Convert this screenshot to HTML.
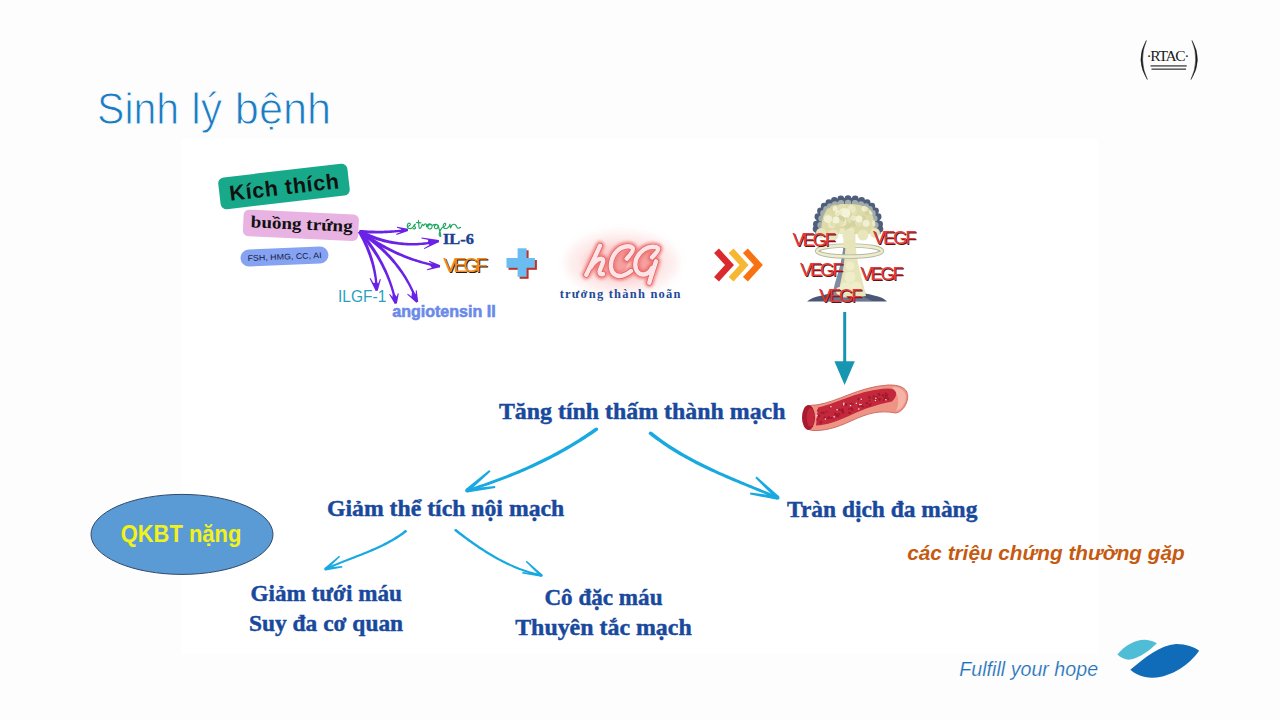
<!DOCTYPE html>
<html><head><meta charset="utf-8">
<style>
html,body{margin:0;padding:0;}
body{width:1280px;height:720px;overflow:hidden;background:#fdfdfd;position:relative;font-family:"Liberation Sans",sans-serif;}
#pic{position:absolute;left:181px;top:139px;width:917px;height:515px;background:#ffffff;}
svg{position:absolute;left:0;top:0;}
</style></head>
<body>
<div id="pic"></div>
<svg width="1280" height="720" viewBox="0 0 1280 720">
<defs>
  <filter id="glow" x="-50%" y="-50%" width="200%" height="200%"><feGaussianBlur stdDeviation="5"/></filter>
  <filter id="glow2" x="-50%" y="-50%" width="200%" height="200%"><feGaussianBlur stdDeviation="1.5"/></filter>
  <filter id="soft" x="-20%" y="-20%" width="140%" height="140%"><feGaussianBlur stdDeviation="0.6"/></filter>
  <clipPath id="capclip"><path d="M820.5 234 C819.5 209.8 828 203 848 203 C868 203 876.5 209.8 875.5 234 Z"/></clipPath>
</defs>

<!-- RTAC logo -->
<path d="M1146.3 40.5 Q1135 60 1147.3 79.5 Q1138.3 60 1146.3 40.5 Z" fill="#1a1a1a" stroke="#1a1a1a" stroke-width="0.5"/>
<path d="M1192 40.5 Q1203.3 60 1191 79.5 Q1200 60 1192 40.5 Z" fill="#1a1a1a" stroke="#1a1a1a" stroke-width="0.5"/>
<text x="1146.5" y="60.6" font-size="15.5" fill="#1a1a1a" font-family="Liberation Serif" textLength="43" lengthAdjust="spacing">·RTAC·</text>
<rect x="1150.5" y="65.1" width="36.2" height="1.6" fill="#3a3a3a" opacity="0.8"/>
<rect x="1151.5" y="68.4" width="34.5" height="1.6" fill="#3a3a3a" opacity="0.8"/>

<!-- Kich thich boxes -->
<g transform="translate(284,186.5) rotate(-6.6)">
  <rect x="-65" y="-16" width="130" height="32" rx="6" fill="#18a98a"/>
</g>
<g transform="translate(300.9,225.3) rotate(2.6)">
  <rect x="-57.7" y="-13.3" width="115.4" height="26.6" rx="5.5" fill="#e8b3e2"/>
</g>
<g transform="translate(284.5,256.5) rotate(-2.5)">
  <rect x="-44" y="-8.5" width="88" height="17" rx="8.5" fill="#86a3f3"/>
</g>

<!-- purple arrows -->
<path d="M359.37 233.20 L360.59 233.27 L361.80 233.33 L363.02 233.39 L364.23 233.44 L365.45 233.49 L366.66 233.52 L367.88 233.56 L369.09 233.58 L370.30 233.60 L371.52 233.61 L372.73 233.62 L373.95 233.62 L375.16 233.61 L376.37 233.60 L377.58 233.57 L378.80 233.55 L380.01 233.51 L381.22 233.47 L382.43 233.43 L383.65 233.37 L384.86 233.31 L386.07 233.25 L387.28 233.18 L388.49 233.10 L389.70 233.01 L390.91 232.92 L392.12 232.82 L393.33 232.71 L394.55 232.60 L395.76 232.48 L396.97 232.36 L398.18 232.23 L399.38 232.09 L400.59 231.94 L401.80 231.79 L403.01 231.64 L404.22 231.47 L405.43 231.30 L406.64 231.12 L407.85 230.94 L407.55 228.86 L406.35 229.01 L405.15 229.15 L403.95 229.29 L402.75 229.42 L401.55 229.54 L400.35 229.66 L399.15 229.77 L397.94 229.88 L396.74 229.98 L395.54 230.07 L394.34 230.15 L393.15 230.23 L391.95 230.30 L390.75 230.37 L389.55 230.43 L388.35 230.48 L387.15 230.53 L385.95 230.57 L384.75 230.60 L383.55 230.63 L382.36 230.65 L381.16 230.66 L379.96 230.67 L378.76 230.67 L377.57 230.66 L376.37 230.65 L375.17 230.63 L373.97 230.61 L372.78 230.58 L371.58 230.54 L370.39 230.49 L369.19 230.44 L367.99 230.39 L366.80 230.32 L365.60 230.25 L364.41 230.18 L363.21 230.09 L362.02 230.00 L360.82 229.91 L359.63 229.80 Z" fill="#6a22e6"/>
<path d="M407.7 229.9 L401.28 228.34 L400.95 230.75 L400.86 232.66 Z" fill="#6a22e6"/>
<path d="M407.96 228.83 L397.12 226.81 L396.88 227.79 L407.44 230.97 Z" fill="#6a22e6"/>
<path d="M407.29 228.88 L396.11 234.04 L396.49 234.96 L408.11 230.92 Z" fill="#6a22e6"/>
<path d="M358.75 233.03 L360.75 233.97 L362.75 234.87 L364.76 235.74 L366.76 236.57 L368.76 237.36 L370.76 238.12 L372.77 238.84 L374.77 239.53 L376.77 240.17 L378.78 240.78 L380.78 241.36 L382.79 241.89 L384.79 242.39 L386.80 242.86 L388.80 243.28 L390.81 243.67 L392.82 244.03 L394.82 244.34 L396.83 244.62 L398.84 244.87 L400.84 245.07 L402.85 245.24 L404.86 245.37 L406.86 245.47 L408.87 245.53 L410.88 245.55 L412.88 245.54 L414.89 245.48 L416.90 245.40 L418.90 245.27 L420.91 245.11 L422.91 244.91 L424.92 244.68 L426.92 244.41 L428.93 244.10 L430.93 243.76 L432.94 243.38 L434.94 242.96 L436.95 242.51 L438.95 242.02 L438.45 239.98 L436.47 240.43 L434.50 240.84 L432.53 241.22 L430.55 241.56 L428.58 241.87 L426.61 242.14 L424.65 242.37 L422.68 242.57 L420.71 242.73 L418.75 242.85 L416.79 242.94 L414.82 243.00 L412.86 243.01 L410.90 243.00 L408.94 242.94 L406.99 242.85 L405.03 242.73 L403.07 242.56 L401.12 242.37 L399.16 242.13 L397.21 241.87 L395.26 241.56 L393.31 241.22 L391.36 240.85 L389.41 240.43 L387.46 239.99 L385.51 239.50 L383.56 238.99 L381.62 238.43 L379.67 237.84 L377.73 237.22 L375.78 236.55 L373.84 235.86 L371.90 235.12 L369.95 234.35 L368.01 233.55 L366.07 232.71 L364.13 231.83 L362.19 230.92 L360.25 229.97 Z" fill="#6a22e6"/>
<path d="M438.7 241.0 L428.38 239.20 L427.56 243.16 L429.94 245.56 Z" fill="#6a22e6"/>
<path d="M438.89 239.92 L421.59 237.51 L421.41 238.49 L438.51 242.08 Z" fill="#6a22e6"/>
<path d="M438.19 240.02 L423.87 248.16 L424.33 249.04 L439.21 241.98 Z" fill="#6a22e6"/>
<path d="M358.52 232.89 L360.59 234.31 L362.65 235.69 L364.71 237.05 L366.77 238.38 L368.82 239.68 L370.88 240.95 L372.93 242.19 L374.98 243.41 L377.03 244.59 L379.08 245.75 L381.12 246.88 L383.17 247.98 L385.21 249.05 L387.25 250.10 L389.29 251.11 L391.33 252.10 L393.36 253.06 L395.39 253.99 L397.43 254.89 L399.45 255.76 L401.48 256.61 L403.51 257.42 L405.53 258.21 L407.55 258.97 L409.57 259.70 L411.59 260.40 L413.61 261.08 L415.62 261.72 L417.64 262.34 L419.65 262.93 L421.65 263.49 L423.66 264.02 L425.67 264.52 L427.67 264.99 L429.67 265.44 L431.67 265.86 L433.66 266.24 L435.66 266.60 L437.65 266.93 L439.64 267.24 L439.96 265.16 L438.00 264.83 L436.05 264.47 L434.09 264.09 L432.13 263.67 L430.16 263.23 L428.20 262.76 L426.23 262.26 L424.27 261.74 L422.30 261.18 L420.33 260.60 L418.36 259.99 L416.39 259.35 L414.41 258.68 L412.44 257.99 L410.46 257.27 L408.48 256.52 L406.50 255.74 L404.52 254.93 L402.53 254.10 L400.55 253.24 L398.56 252.35 L396.57 251.43 L394.58 250.48 L392.59 249.51 L390.59 248.51 L388.60 247.48 L386.60 246.42 L384.60 245.33 L382.60 244.22 L380.60 243.08 L378.59 241.91 L376.59 240.71 L374.58 239.48 L372.57 238.23 L370.56 236.94 L368.55 235.63 L366.53 234.29 L364.51 232.93 L362.50 231.53 L360.48 230.11 Z" fill="#6a22e6"/>
<path d="M439.8 266.2 L433.38 263.23 L428.73 264.06 L432.24 268.30 Z" fill="#6a22e6"/>
<path d="M440.26 265.20 L429.31 260.80 L428.89 261.70 L439.34 267.20 Z" fill="#6a22e6"/>
<path d="M439.51 265.14 L427.07 269.22 L427.33 270.18 L440.09 267.26 Z" fill="#6a22e6"/>
<path d="M358.01 232.32 L358.83 233.78 L359.63 235.23 L360.40 236.69 L361.16 238.14 L361.90 239.60 L362.62 241.05 L363.32 242.50 L364.00 243.96 L364.67 245.41 L365.31 246.86 L365.93 248.32 L366.54 249.77 L367.12 251.22 L367.69 252.67 L368.24 254.13 L368.76 255.58 L369.27 257.03 L369.76 258.48 L370.23 259.93 L370.68 261.39 L371.11 262.84 L371.52 264.29 L371.92 265.74 L372.29 267.19 L372.64 268.64 L372.98 270.10 L373.30 271.55 L373.59 273.00 L373.87 274.45 L374.13 275.90 L374.37 277.36 L374.59 278.81 L374.79 280.26 L374.97 281.71 L375.13 283.16 L375.27 284.62 L375.40 286.07 L375.50 287.52 L375.58 288.98 L375.65 290.43 L377.75 290.37 L377.72 288.89 L377.66 287.41 L377.59 285.92 L377.50 284.44 L377.38 282.95 L377.25 281.47 L377.10 279.98 L376.93 278.50 L376.73 277.01 L376.52 275.52 L376.29 274.03 L376.04 272.54 L375.77 271.05 L375.48 269.56 L375.17 268.07 L374.84 266.58 L374.49 265.09 L374.12 263.60 L373.73 262.11 L373.32 260.61 L372.89 259.12 L372.44 257.63 L371.97 256.13 L371.49 254.64 L370.98 253.14 L370.45 251.65 L369.90 250.15 L369.33 248.66 L368.75 247.16 L368.14 245.66 L367.51 244.17 L366.87 242.67 L366.20 241.17 L365.52 239.67 L364.81 238.17 L364.08 236.67 L363.34 235.17 L362.58 233.68 L361.79 232.18 L360.99 230.68 Z" fill="#6a22e6"/>
<path d="M376.7 290.4 L372.68 283.14 L376.17 282.18 L378.92 283.68 Z" fill="#6a22e6"/>
<path d="M377.66 289.87 L370.44 278.06 L369.56 278.54 L375.74 290.93 Z" fill="#6a22e6"/>
<path d="M377.74 290.75 L380.87 279.36 L379.93 279.04 L375.66 290.05 Z" fill="#6a22e6"/>
<path d="M358.22 232.62 L359.65 234.25 L361.05 235.89 L362.43 237.54 L363.78 239.19 L365.10 240.85 L366.39 242.52 L367.66 244.20 L368.91 245.88 L370.13 247.57 L371.32 249.27 L372.48 250.97 L373.62 252.68 L374.73 254.40 L375.82 256.12 L376.87 257.85 L377.91 259.59 L378.91 261.34 L379.89 263.09 L380.85 264.85 L381.77 266.62 L382.67 268.40 L383.55 270.18 L384.40 271.97 L385.22 273.76 L386.01 275.57 L386.78 277.38 L387.52 279.20 L388.24 281.02 L388.93 282.85 L389.59 284.69 L390.23 286.54 L390.84 288.40 L391.42 290.26 L391.98 292.13 L392.51 294.00 L393.01 295.89 L393.49 297.78 L393.94 299.68 L394.37 301.58 L394.77 303.50 L396.83 303.10 L396.46 301.15 L396.06 299.21 L395.63 297.27 L395.18 295.34 L394.70 293.42 L394.19 291.50 L393.65 289.60 L393.09 287.69 L392.50 285.80 L391.88 283.91 L391.24 282.02 L390.57 280.15 L389.87 278.28 L389.15 276.41 L388.39 274.56 L387.62 272.71 L386.81 270.87 L385.98 269.03 L385.11 267.20 L384.23 265.38 L383.31 263.56 L382.37 261.76 L381.40 259.95 L380.40 258.16 L379.38 256.37 L378.33 254.59 L377.25 252.82 L376.15 251.05 L375.02 249.29 L373.86 247.53 L372.67 245.79 L371.46 244.05 L370.22 242.32 L368.95 240.59 L367.66 238.87 L366.34 237.16 L364.99 235.46 L363.61 233.76 L362.21 232.07 L360.78 230.38 Z" fill="#6a22e6"/>
<path d="M395.8 303.3 L392.08 297.84 L393.29 292.57 L397.30 297.30 Z" fill="#6a22e6"/>
<path d="M396.71 302.68 L390.01 293.92 L389.19 294.48 L394.89 303.92 Z" fill="#6a22e6"/>
<path d="M396.87 303.57 L398.79 293.42 L397.81 293.18 L394.73 303.03 Z" fill="#6a22e6"/>
<path d="M358.57 232.92 L360.65 234.29 L362.70 235.68 L364.72 237.09 L366.70 238.51 L368.65 239.96 L370.57 241.42 L372.45 242.90 L374.30 244.41 L376.12 245.92 L377.90 247.46 L379.66 249.02 L381.37 250.59 L383.06 252.19 L384.71 253.80 L386.33 255.43 L387.92 257.08 L389.47 258.75 L390.99 260.44 L392.48 262.14 L393.94 263.87 L395.36 265.61 L396.75 267.38 L398.10 269.16 L399.42 270.96 L400.71 272.78 L401.97 274.62 L403.20 276.47 L404.39 278.35 L405.54 280.25 L406.67 282.16 L407.76 284.09 L408.82 286.05 L409.85 288.02 L410.84 290.01 L411.80 292.02 L412.73 294.05 L413.63 296.10 L414.49 298.16 L415.32 300.25 L416.11 302.36 L418.09 301.64 L417.31 299.49 L416.50 297.36 L415.65 295.25 L414.77 293.15 L413.86 291.08 L412.91 289.02 L411.93 286.98 L410.91 284.95 L409.86 282.95 L408.78 280.96 L407.66 279.00 L406.51 277.05 L405.32 275.12 L404.10 273.21 L402.85 271.32 L401.56 269.44 L400.24 267.59 L398.88 265.75 L397.49 263.93 L396.06 262.13 L394.61 260.35 L393.11 258.59 L391.59 256.84 L390.03 255.12 L388.43 253.41 L386.80 251.72 L385.14 250.06 L383.44 248.41 L381.71 246.77 L379.95 245.16 L378.15 243.57 L376.31 241.99 L374.45 240.44 L372.55 238.90 L370.61 237.38 L368.64 235.89 L366.64 234.41 L364.61 232.94 L362.54 231.50 L360.43 230.08 Z" fill="#6a22e6"/>
<path d="M417.1 302.0 L411.34 297.32 L412.26 290.32 L416.59 295.04 Z" fill="#6a22e6"/>
<path d="M417.79 301.15 L407.82 293.81 L407.18 294.59 L416.41 302.85 Z" fill="#6a22e6"/>
<path d="M418.20 301.92 L416.75 290.36 L415.75 290.44 L416.00 302.08 Z" fill="#6a22e6"/>
<!-- estrogen -->
<path d="M407.36 226.69 C407.76 226.48 409.30 225.96 409.78 225.47 C410.26 224.99 410.47 224.14 410.26 223.78 C410.06 223.42 409.07 223.01 408.57 223.30 C408.07 223.58 407.30 224.65 407.26 225.47 C407.22 226.30 407.67 227.75 408.33 228.23 C408.99 228.72 410.51 228.52 411.23 228.38 C411.96 228.24 412.16 228.02 412.69 227.41 C413.21 226.81 413.94 225.27 414.38 224.75 C414.82 224.22 415.43 224.02 415.35 224.26 C415.27 224.51 413.86 225.68 413.90 226.20 C413.94 226.73 415.47 226.97 415.59 227.41 C415.71 227.86 415.03 228.66 414.62 228.86 C414.22 229.07 413.41 228.66 413.17 228.62" fill="none" stroke="#1fa862" stroke-width="1.15" stroke-linecap="round" stroke-linejoin="round"/>
<path d="M418.50 220.39 C418.54 221.04 418.62 222.97 418.74 224.26 C418.86 225.56 418.94 227.49 419.22 228.14 C419.51 228.78 420.07 228.38 420.43 228.14 C420.80 227.90 421.08 227.33 421.40 226.69 C421.72 226.04 422.01 224.43 422.37 224.26 C422.73 224.10 423.22 225.72 423.58 225.72 C423.94 225.72 424.11 224.51 424.55 224.26 C424.99 224.02 425.88 223.86 426.24 224.26 C426.61 224.67 426.65 226.28 426.73 226.69" fill="none" stroke="#1fa862" stroke-width="1.15" stroke-linecap="round" stroke-linejoin="round"/>
<path d="M416.56 222.57 C417.29 222.61 420.19 222.77 420.92 222.81" fill="none" stroke="#1fa862" stroke-width="1.15" stroke-linecap="round" stroke-linejoin="round"/>
<path d="M426.73 226.69 C426.97 226.28 427.46 224.67 428.18 224.26 C428.91 223.86 430.44 223.86 431.09 224.26 C431.73 224.67 432.14 225.92 432.06 226.69 C431.97 227.45 431.25 228.62 430.60 228.86 C429.96 229.11 428.59 228.66 428.18 228.14 C427.78 227.61 427.86 226.28 428.18 225.72 C428.50 225.15 429.39 224.83 430.12 224.75 C430.85 224.67 431.89 225.23 432.54 225.23 C433.19 225.23 433.75 224.83 433.99 224.75" fill="none" stroke="#1fa862" stroke-width="1.15" stroke-linecap="round" stroke-linejoin="round"/>
<path d="M433.99 224.75 C434.32 224.67 435.28 224.18 435.93 224.26 C436.58 224.34 437.62 224.59 437.87 225.23 C438.11 225.88 437.87 227.61 437.38 228.14 C436.90 228.66 435.45 228.70 434.96 228.38 C434.48 228.06 434.23 226.81 434.48 226.20 C434.72 225.60 435.77 224.87 436.41 224.75 C437.06 224.63 437.95 224.91 438.35 225.47 C438.75 226.04 438.51 226.89 438.84 228.14 C439.16 229.39 439.97 231.61 440.29 232.98 C440.61 234.35 440.93 235.97 440.77 236.37 C440.61 236.77 439.48 236.21 439.32 235.40 C439.16 234.59 439.40 232.74 439.80 231.53 C440.21 230.32 441.18 228.86 441.74 228.14 C442.31 227.41 442.95 227.33 443.19 227.17" fill="none" stroke="#1fa862" stroke-width="1.15" stroke-linecap="round" stroke-linejoin="round"/>
<path d="M443.19 227.17 C443.52 226.93 444.73 226.28 445.13 225.72 C445.53 225.15 445.78 224.14 445.62 223.78 C445.45 223.42 444.57 223.13 444.16 223.54 C443.76 223.94 443.11 225.39 443.19 226.20 C443.27 227.01 443.92 228.10 444.65 228.38 C445.37 228.66 446.74 228.34 447.55 227.90 C448.36 227.45 449.09 226.32 449.49 225.72 C449.89 225.11 449.81 223.90 449.97 224.26 C450.13 224.63 450.13 227.73 450.46 227.90 C450.78 228.06 451.35 225.84 451.91 225.23 C452.48 224.63 453.20 224.26 453.85 224.26 C454.49 224.26 455.14 224.59 455.78 225.23 C456.43 225.88 456.91 227.77 457.72 228.14 C458.53 228.50 460.14 227.53 460.63 227.41" fill="none" stroke="#1fa862" stroke-width="1.15" stroke-linecap="round" stroke-linejoin="round"/>
<!-- plus -->
<g transform="translate(2,2)" fill="#c0302a">
  <rect x="517.6" y="248.3" width="9" height="28.5"/>
  <rect x="506.5" y="258" width="28.4" height="9.8"/>
</g>
<g fill="#6bbcf0">
  <rect x="517.6" y="248.3" width="9" height="28.5"/>
  <rect x="506.5" y="258" width="28.4" height="9.8"/>
</g>

<!-- hCG glow -->
<ellipse cx="622" cy="263" rx="56" ry="31" fill="#f8a0a0" opacity="0.2" filter="url(#glow)"/>
<ellipse cx="622" cy="263" rx="38" ry="19" fill="#f47070" opacity="0.25" filter="url(#glow)"/>
<ellipse cx="622" cy="262" rx="6.5" ry="11.5" transform="rotate(28 622 262)" fill="#f4a0a0"/>
<ellipse cx="646.5" cy="261" rx="6.5" ry="11.5" transform="rotate(28 646.5 261)" fill="#f4a0a0"/>
<g fill="none" stroke-linecap="round" stroke-linejoin="round">
 <path d="M600 245.7 C597 253 591 265 586.3 274.7 M590.5 267.5 C594 262 599 257.5 602.5 259 C605 261 600 268 599.5 271.5 C599.5 274 601 275 603 274 M626.7 258.7 C630 255 634 250 632.7 248 C630 245 622 246 617 251 C612 256 610 264 611.3 269 C612.5 275 618 277 623 275.5 C627 274 630 272 631 271 M652 257.3 C655 254 659 250 658 248.3 C656 246 649 246 644 249.5 C638 254 635 260 635.3 265 C635.5 272 640 275 644 274.5 C648 274 651 270 652 268 M656 261.3 C654 268 651 276 649.3 282.7" stroke="#ee5a5a" stroke-width="9" filter="url(#glow2)" opacity="0.7"/>
 <path d="M600 245.7 C597 253 591 265 586.3 274.7 M590.5 267.5 C594 262 599 257.5 602.5 259 C605 261 600 268 599.5 271.5 C599.5 274 601 275 603 274 M626.7 258.7 C630 255 634 250 632.7 248 C630 245 622 246 617 251 C612 256 610 264 611.3 269 C612.5 275 618 277 623 275.5 C627 274 630 272 631 271 M652 257.3 C655 254 659 250 658 248.3 C656 246 649 246 644 249.5 C638 254 635 260 635.3 265 C635.5 272 640 275 644 274.5 C648 274 651 270 652 268 M656 261.3 C654 268 651 276 649.3 282.7" stroke="#de5a5a" stroke-width="5.6"/>
 <path d="M600 245.7 C597 253 591 265 586.3 274.7 M590.5 267.5 C594 262 599 257.5 602.5 259 C605 261 600 268 599.5 271.5 C599.5 274 601 275 603 274 M626.7 258.7 C630 255 634 250 632.7 248 C630 245 622 246 617 251 C612 256 610 264 611.3 269 C612.5 275 618 277 623 275.5 C627 274 630 272 631 271 M652 257.3 C655 254 659 250 658 248.3 C656 246 649 246 644 249.5 C638 254 635 260 635.3 265 C635.5 272 640 275 644 274.5 C648 274 651 270 652 268 M656 261.3 C654 268 651 276 649.3 282.7" stroke="#fde4e6" stroke-width="4.4"/>
</g>

<!-- chevrons -->
<g fill="none" stroke-width="6.6" stroke-linecap="butt" stroke-linejoin="miter">
  <path d="M716.5 250.8 L729.5 265 L716.5 279.2" stroke="#da2a2e"/>
  <path d="M731.1 250.8 L744.1 265 L731.1 279.2" stroke="#f6b733"/>
  <path d="M745.4 250.8 L758.4 265 L745.4 279.2" stroke="#f87212"/>
</g>

<!-- mushroom cloud -->
<g>
 <path d="M807 301.5 Q812 297 822 295.5 Q830 292.5 848 292 Q866 292.5 874 295.5 Q883 297 887 301.5 Z" fill="#4a5876"/>
 <path d="M822 301 Q834 295 848 294.5 Q862 295 872 301 Z" fill="#6b7890"/>
 <path d="M832 296 Q835 282 839 270 Q842 259 843.5 246 L855.5 246 Q857 259 859.5 270 Q863 282 866 296 Q848 299 832 296 Z" fill="#e6e4b8"/>
 <path d="M832 296 Q835 282 839 270 Q842 259 843.5 246 L845.5 246 Q844.5 262 842.5 273 Q839.5 285 838.5 297 Z" fill="#7f8ba0"/>
 <g fill="#efedca"><circle cx="846" cy="288" r="6"/><circle cx="856" cy="287" r="5.5"/><circle cx="850" cy="277" r="5.5"/><circle cx="850" cy="266" r="4.5"/><circle cx="840" cy="291" r="4"/></g>
 <ellipse cx="849.5" cy="251" rx="32.5" ry="5.6" fill="none" stroke="#b4b8a6" stroke-width="4.4"/>
 <ellipse cx="849.5" cy="251" rx="32.5" ry="5.6" fill="none" stroke="#eeecca" stroke-width="2.6"/>
 <rect x="843.5" y="234" width="12" height="14" fill="#e6e4b8"/>
 <g fill="#4f5e7a"><circle cx="816.1" cy="229.0" r="3.4"/><circle cx="816.4" cy="224.1" r="3.4"/><circle cx="817.9" cy="216.7" r="3.4"/><circle cx="820.5" cy="210.8" r="3.4"/><circle cx="824.2" cy="206.1" r="3.4"/><circle cx="828.9" cy="202.7" r="3.4"/><circle cx="834.4" cy="200.3" r="3.4"/><circle cx="840.8" cy="199.0" r="3.4"/><circle cx="848.0" cy="198.6" r="3.4"/><circle cx="855.2" cy="199.0" r="3.4"/><circle cx="861.6" cy="200.3" r="3.4"/><circle cx="867.1" cy="202.7" r="3.4"/><circle cx="871.8" cy="206.1" r="3.4"/><circle cx="875.5" cy="210.8" r="3.4"/><circle cx="878.1" cy="216.7" r="3.4"/><circle cx="879.6" cy="224.1" r="3.4"/><circle cx="879.9" cy="229.0" r="3.4"/><path d="M815.5 234 C814.5 206.8 828 198 848 198 C868 198 881.5 206.8 880.5 234 Z"/></g>
 <g fill="#a4acab"><circle cx="820.6" cy="225.1" r="3.2"/><circle cx="821.6" cy="218.5" r="3.2"/><circle cx="823.5" cy="213.3" r="3.2"/><circle cx="826.4" cy="209.3" r="3.2"/><circle cx="830.2" cy="206.4" r="3.2"/><circle cx="835.1" cy="204.4" r="3.2"/><circle cx="841.0" cy="203.3" r="3.2"/><circle cx="848.0" cy="203.0" r="3.2"/><circle cx="855.0" cy="203.3" r="3.2"/><circle cx="860.9" cy="204.4" r="3.2"/><circle cx="865.8" cy="206.4" r="3.2"/><circle cx="869.6" cy="209.3" r="3.2"/><circle cx="872.5" cy="213.3" r="3.2"/><circle cx="874.4" cy="218.5" r="3.2"/><circle cx="875.4" cy="225.1" r="3.2"/></g>
 <path d="M821.5 234 C820.5 210.4 828 204 848 204 C868 204 875.5 210.4 874.5 234 Z" fill="#dcdaa8"/>
 <g clip-path="url(#capclip)"><circle cx="845.3" cy="222.2" r="3.4" fill="#d4d29e"/><circle cx="867.9" cy="211.5" r="3.8" fill="#d4d29e"/><circle cx="864.4" cy="208.7" r="2.8" fill="#f2f0d4"/><circle cx="850.2" cy="231.8" r="3.7" fill="#ebe9c4"/><circle cx="842.2" cy="219.1" r="3.7" fill="#e2e0b2"/><circle cx="866.6" cy="207.8" r="2.9" fill="#ebe9c4"/><circle cx="833.5" cy="206.9" r="3.2" fill="#d4d29e"/><circle cx="853.1" cy="211.7" r="3.8" fill="#e2e0b2"/><circle cx="848.0" cy="225.2" r="3.8" fill="#d4d29e"/><circle cx="842.8" cy="222.0" r="3.9" fill="#ebe9c4"/><circle cx="837.7" cy="212.7" r="2.6" fill="#f2f0d4"/><circle cx="851.5" cy="209.1" r="4.2" fill="#ebe9c4"/><circle cx="841.6" cy="233.8" r="2.9" fill="#ebe9c4"/><circle cx="871.9" cy="207.5" r="4.5" fill="#d4d29e"/><circle cx="842.3" cy="208.1" r="4.1" fill="#e2e0b2"/><circle cx="835.1" cy="208.5" r="2.5" fill="#f2f0d4"/><circle cx="843.0" cy="232.8" r="3.0" fill="#e2e0b2"/><circle cx="825.7" cy="207.7" r="2.9" fill="#d4d29e"/><circle cx="851.3" cy="219.0" r="4.5" fill="#e2e0b2"/><circle cx="863.1" cy="218.2" r="2.7" fill="#d4d29e"/><circle cx="843.6" cy="212.2" r="4.2" fill="#f2f0d4"/><circle cx="874.6" cy="223.2" r="2.9" fill="#ebe9c4"/><circle cx="842.1" cy="230.8" r="2.6" fill="#ebe9c4"/><circle cx="828.2" cy="218.8" r="4.0" fill="#ebe9c4"/><circle cx="838.4" cy="214.6" r="2.6" fill="#ebe9c4"/><circle cx="831.7" cy="224.5" r="3.7" fill="#ebe9c4"/><circle cx="840.8" cy="219.1" r="4.2" fill="#d4d29e"/><circle cx="827.6" cy="217.2" r="3.1" fill="#e2e0b2"/><circle cx="832.8" cy="223.7" r="2.8" fill="#e2e0b2"/><circle cx="855.2" cy="222.1" r="4.3" fill="#d4d29e"/><circle cx="853.8" cy="218.2" r="2.7" fill="#ebe9c4"/><circle cx="848.7" cy="213.4" r="3.0" fill="#d4d29e"/><circle cx="866.1" cy="223.3" r="3.5" fill="#f2f0d4"/><circle cx="872.0" cy="234.3" r="3.0" fill="#e2e0b2"/><circle cx="851.3" cy="230.7" r="3.1" fill="#ebe9c4"/><circle cx="871.4" cy="211.9" r="2.6" fill="#ebe9c4"/><circle cx="843.0" cy="213.2" r="2.9" fill="#ebe9c4"/><circle cx="840.7" cy="222.6" r="2.7" fill="#e2e0b2"/><circle cx="827.8" cy="219.1" r="3.8" fill="#f2f0d4"/><circle cx="858.7" cy="222.9" r="3.7" fill="#e2e0b2"/></g>
 <g fill="#e8e6bc"><circle cx="821" cy="233" r="5"/><circle cx="833" cy="235" r="5.5"/><circle cx="848" cy="235.5" r="5.5"/><circle cx="863" cy="235" r="5.5"/><circle cx="875" cy="233" r="5"/></g>
 <g fill="#f4f2d8"><circle cx="846" cy="213" r="4.5"/><circle cx="836" cy="220" r="3.5"/><circle cx="859" cy="219" r="3.5"/></g>
</g>

<!-- teal down arrow -->
<rect x="843.2" y="312" width="3" height="52" fill="#1696b0"/>
<path d="M834.4 361.2 L854.8 361.2 L844.6 385 Z" fill="#1696b0"/>

<!-- blood vessel -->
<g>
 <path d="M805 412 C805 406 810 405 816 405 C838 402 858 387 888 385 C904 384.5 909 391 907.5 399 C906 407 901 412 896 413 C880 410 868 413 851 421 C836 428 824 431 813 430.5 C804 430 801 421 805 412 Z" fill="#ee9484" stroke="#c8645c" stroke-width="0.9"/>
 <path d="M892 387 C903 387 907 393 905.5 400 C904 406 900 410 896 411 C899 404 900 395 892 387 Z" fill="#f6b4a6"/>
 <path d="M818 407.5 C840 402.5 860 389.5 888 388.5 C897 388.5 899 395 892 401.5 C876 405 866 408 851 415 C837 421.5 827 425 816 425.5 Z" fill="#c4283c"/>
 <ellipse cx="808.5" cy="417.5" rx="6.5" ry="12.5" fill="#a81a2c"/>
 <ellipse cx="810.5" cy="417.5" rx="3.8" ry="9.5" fill="#c4283c"/>
 <g fill="#9a1426" opacity="0.75"><circle cx="861.8" cy="405.8" r="1.28"/><circle cx="884.9" cy="398.3" r="1.35"/><circle cx="819.1" cy="415.9" r="1.37"/><circle cx="863.7" cy="406.8" r="0.87"/><circle cx="850.8" cy="403.8" r="1.13"/><circle cx="858.3" cy="399.2" r="0.93"/><circle cx="837.1" cy="416.0" r="1.26"/><circle cx="828.5" cy="417.4" r="0.88"/><circle cx="861.5" cy="399.6" r="0.80"/><circle cx="879.7" cy="395.3" r="0.93"/><circle cx="887.7" cy="398.4" r="0.97"/><circle cx="886.2" cy="396.2" r="1.21"/><circle cx="831.7" cy="418.1" r="1.21"/><circle cx="886.6" cy="399.0" r="0.98"/><circle cx="843.0" cy="405.1" r="0.89"/><circle cx="821.7" cy="412.9" r="1.16"/><circle cx="817.2" cy="419.4" r="1.00"/><circle cx="839.3" cy="414.0" r="1.09"/><circle cx="839.7" cy="409.8" r="1.22"/><circle cx="821.1" cy="422.2" r="0.81"/><circle cx="871.0" cy="403.8" r="0.81"/><circle cx="873.7" cy="398.4" r="1.15"/><circle cx="817.7" cy="410.5" r="0.91"/><circle cx="885.8" cy="393.5" r="1.25"/><circle cx="883.9" cy="400.3" r="1.01"/><circle cx="842.5" cy="409.5" r="1.27"/><circle cx="824.8" cy="417.9" r="1.28"/><circle cx="878.9" cy="394.0" r="1.37"/><circle cx="823.6" cy="412.9" r="1.17"/><circle cx="883.1" cy="395.4" r="1.35"/><circle cx="856.3" cy="403.0" r="0.99"/><circle cx="829.8" cy="407.6" r="0.89"/><circle cx="866.6" cy="406.7" r="0.90"/><circle cx="820.5" cy="422.6" r="1.12"/><circle cx="846.2" cy="405.0" r="1.16"/><circle cx="876.5" cy="398.4" r="1.05"/><circle cx="821.0" cy="421.5" r="0.82"/><circle cx="852.5" cy="409.9" r="0.88"/><circle cx="869.7" cy="405.2" r="1.18"/><circle cx="873.7" cy="396.0" r="1.06"/><circle cx="827.7" cy="418.2" r="0.98"/><circle cx="849.6" cy="412.7" r="1.31"/><circle cx="887.3" cy="395.1" r="1.09"/><circle cx="869.5" cy="400.7" r="0.97"/><circle cx="846.1" cy="404.0" r="1.03"/><circle cx="888.2" cy="399.0" r="1.18"/><circle cx="853.0" cy="404.2" r="0.85"/><circle cx="836.6" cy="414.5" r="1.32"/><circle cx="843.0" cy="412.4" r="1.26"/><circle cx="867.0" cy="403.3" r="1.26"/><circle cx="843.2" cy="411.4" r="0.97"/><circle cx="852.0" cy="409.3" r="1.21"/><circle cx="838.2" cy="416.0" r="1.19"/><circle cx="858.8" cy="399.1" r="1.13"/><circle cx="835.0" cy="413.6" r="1.08"/><circle cx="875.8" cy="400.4" r="1.28"/><circle cx="842.0" cy="411.1" r="1.24"/><circle cx="876.6" cy="397.4" r="1.31"/><circle cx="879.6" cy="399.5" r="1.39"/><circle cx="885.9" cy="396.1" r="1.12"/><circle cx="829.0" cy="417.7" r="1.36"/><circle cx="851.4" cy="408.6" r="1.23"/><circle cx="869.6" cy="397.8" r="1.27"/><circle cx="858.8" cy="406.0" r="1.05"/><circle cx="861.9" cy="406.1" r="1.18"/><circle cx="868.9" cy="396.6" r="0.90"/><circle cx="848.8" cy="409.0" r="0.93"/><circle cx="866.4" cy="403.2" r="0.83"/><circle cx="851.0" cy="403.6" r="0.83"/><circle cx="826.6" cy="411.7" r="0.91"/></g>
 <g fill="#ffffff" opacity="0.9"><circle cx="830.9" cy="406.8" r="0.75"/><circle cx="850.5" cy="405.4" r="0.75"/><circle cx="861.0" cy="404.5" r="0.75"/><circle cx="834.1" cy="416.8" r="0.75"/><circle cx="817.0" cy="415.7" r="0.75"/><circle cx="837.1" cy="409.8" r="0.75"/><circle cx="825.3" cy="418.9" r="0.75"/><circle cx="843.9" cy="403.3" r="0.75"/><circle cx="861.2" cy="399.3" r="0.75"/><circle cx="856.3" cy="403.3" r="0.75"/><circle cx="858.8" cy="409.0" r="0.75"/><circle cx="875.9" cy="398.3" r="0.75"/><circle cx="875.5" cy="400.4" r="0.75"/><circle cx="843.6" cy="404.7" r="0.75"/><circle cx="859.9" cy="404.6" r="0.75"/><circle cx="885.9" cy="399.8" r="0.75"/></g>
</g>

<!-- cyan arrows -->
<path d="M595.46 427.65 L593.12 429.32 L590.76 430.97 L588.39 432.60 L586.01 434.20 L583.62 435.79 L581.22 437.36 L578.80 438.91 L576.37 440.44 L573.94 441.95 L571.49 443.43 L569.03 444.90 L566.56 446.36 L564.08 447.79 L561.59 449.20 L559.09 450.60 L556.58 451.97 L554.06 453.33 L551.53 454.68 L548.99 456.00 L546.44 457.31 L543.88 458.59 L541.32 459.87 L538.74 461.12 L536.16 462.36 L533.57 463.58 L530.97 464.79 L528.36 465.98 L525.74 467.15 L523.12 468.31 L520.49 469.45 L517.85 470.57 L515.21 471.69 L512.56 472.78 L509.90 473.86 L507.23 474.93 L504.56 475.98 L501.88 477.02 L499.20 478.04 L496.51 479.05 L493.82 480.05 L491.12 481.03 L488.41 482.00 L485.70 482.96 L482.98 483.90 L480.26 484.83 L477.54 485.75 L474.81 486.66 L472.07 487.55 L469.34 488.43 L466.60 489.30 L467.40 491.90 L470.16 491.04 L472.92 490.17 L475.67 489.29 L478.41 488.40 L481.16 487.49 L483.90 486.57 L486.63 485.64 L489.36 484.70 L492.08 483.74 L494.80 482.77 L497.52 481.78 L500.23 480.78 L502.93 479.77 L505.63 478.74 L508.32 477.70 L511.01 476.64 L513.69 475.57 L516.36 474.48 L519.03 473.38 L521.69 472.26 L524.35 471.13 L526.99 469.98 L529.63 468.81 L532.26 467.63 L534.89 466.43 L537.51 465.22 L540.12 463.99 L542.72 462.74 L545.31 461.47 L547.89 460.19 L550.47 458.89 L553.04 457.57 L555.59 456.23 L558.14 454.88 L560.68 453.50 L563.21 452.11 L565.73 450.70 L568.24 449.27 L570.74 447.82 L573.23 446.35 L575.71 444.86 L578.18 443.35 L580.64 441.83 L583.09 440.28 L585.53 438.71 L587.95 437.12 L590.37 435.51 L592.77 433.88 L595.16 432.23 L597.54 430.55 Z" fill="#17a9df"/>
<circle cx="596.5" cy="429.1" r="1.70" fill="#17a9df"/>
<path d="M468.28 492.08 L490.57 471.47 L489.23 469.93 L465.72 489.12 Z" fill="#17a9df"/>
<path d="M467.24 492.54 L495.33 488.11 L495.07 486.09 L466.76 488.66 Z" fill="#17a9df"/>
<circle cx="467" cy="490.6" r="1.87" fill="#17a9df"/>
<path d="M649.38 434.59 L651.68 436.40 L654.00 438.17 L656.34 439.91 L658.69 441.62 L661.06 443.29 L663.45 444.94 L665.85 446.55 L668.26 448.13 L670.70 449.69 L673.14 451.22 L675.60 452.72 L678.08 454.20 L680.56 455.65 L683.06 457.08 L685.57 458.48 L688.10 459.86 L690.63 461.22 L693.17 462.56 L695.73 463.88 L698.29 465.18 L700.86 466.46 L703.44 467.72 L706.03 468.96 L708.63 470.19 L711.23 471.40 L713.84 472.60 L716.46 473.78 L719.08 474.95 L721.70 476.11 L724.33 477.26 L726.97 478.39 L729.61 479.52 L732.25 480.63 L734.89 481.74 L737.54 482.84 L740.19 483.93 L742.84 485.02 L745.49 486.10 L748.14 487.18 L750.79 488.25 L753.44 489.32 L756.09 490.39 L758.73 491.46 L761.38 492.53 L764.02 493.59 L766.66 494.66 L769.30 495.73 L771.93 496.80 L774.56 497.88 L777.18 498.96 L778.22 496.44 L775.60 495.35 L772.98 494.25 L770.35 493.17 L767.72 492.08 L765.08 490.99 L762.44 489.91 L759.80 488.83 L757.16 487.75 L754.52 486.66 L751.88 485.58 L749.24 484.49 L746.60 483.40 L743.96 482.30 L741.32 481.20 L738.69 480.10 L736.05 478.98 L733.42 477.86 L730.80 476.73 L728.18 475.60 L725.56 474.45 L722.95 473.30 L720.34 472.13 L717.74 470.95 L715.14 469.76 L712.56 468.55 L709.98 467.33 L707.41 466.10 L704.84 464.84 L702.29 463.58 L699.75 462.29 L697.21 460.99 L694.69 459.67 L692.18 458.33 L689.68 456.97 L687.19 455.59 L684.71 454.18 L682.25 452.76 L679.80 451.31 L677.36 449.83 L674.94 448.33 L672.53 446.81 L670.14 445.26 L667.76 443.68 L665.40 442.07 L663.06 440.44 L660.74 438.77 L658.43 437.08 L656.14 435.35 L653.87 433.60 L651.62 431.81 Z" fill="#17a9df"/>
<circle cx="650.5" cy="433.2" r="1.70" fill="#17a9df"/>
<path d="M779.04 496.28 L756.70 476.46 L755.30 477.94 L776.36 499.12 Z" fill="#17a9df"/>
<path d="M777.99 495.77 L750.35 492.59 L750.05 494.61 L777.41 499.63 Z" fill="#17a9df"/>
<circle cx="777.7" cy="497.7" r="1.87" fill="#17a9df"/>
<path d="M404.83 530.25 L403.41 531.33 L401.98 532.39 L400.54 533.42 L399.08 534.43 L397.61 535.41 L396.13 536.37 L394.64 537.31 L393.14 538.23 L391.63 539.13 L390.10 540.01 L388.57 540.87 L387.02 541.71 L385.47 542.54 L383.91 543.35 L382.33 544.14 L380.76 544.92 L379.17 545.68 L377.58 546.44 L375.97 547.18 L374.37 547.90 L372.75 548.62 L371.13 549.33 L369.51 550.03 L367.88 550.72 L366.25 551.40 L364.61 552.07 L362.97 552.74 L361.32 553.40 L359.67 554.06 L358.02 554.72 L356.37 555.37 L354.71 556.02 L353.06 556.67 L351.40 557.31 L349.74 557.96 L348.09 558.61 L346.43 559.26 L344.77 559.91 L343.12 560.57 L341.46 561.23 L339.81 561.89 L338.16 562.56 L336.52 563.24 L334.87 563.92 L333.23 564.62 L331.60 565.32 L329.96 566.03 L328.34 566.75 L326.71 567.48 L325.10 568.23 L325.90 569.97 L327.51 569.24 L329.12 568.53 L330.74 567.82 L332.37 567.13 L334.00 566.44 L335.64 565.76 L337.27 565.09 L338.92 564.43 L340.57 563.78 L342.22 563.12 L343.87 562.48 L345.52 561.83 L347.18 561.19 L348.84 560.56 L350.50 559.92 L352.16 559.28 L353.82 558.65 L355.49 558.01 L357.15 557.37 L358.81 556.73 L360.47 556.08 L362.13 555.43 L363.78 554.78 L365.44 554.12 L367.09 553.45 L368.74 552.78 L370.38 552.09 L372.02 551.40 L373.66 550.70 L375.29 549.99 L376.92 549.26 L378.54 548.53 L380.16 547.78 L381.77 547.01 L383.37 546.24 L384.97 545.44 L386.56 544.63 L388.14 543.81 L389.71 542.96 L391.28 542.10 L392.84 541.21 L394.38 540.31 L395.92 539.39 L397.45 538.44 L398.96 537.47 L400.47 536.48 L401.96 535.46 L403.44 534.41 L404.91 533.34 L406.37 532.25 Z" fill="#17a9df"/>
<circle cx="405.6" cy="531.25" r="1.20" fill="#17a9df"/>
<path d="M326.43 570.12 L340.08 556.78 L339.12 555.72 L324.57 568.08 Z" fill="#17a9df"/>
<path d="M325.69 570.47 L342.40 567.51 L342.20 566.09 L325.31 567.73 Z" fill="#17a9df"/>
<circle cx="325.5" cy="569.1" r="1.32" fill="#17a9df"/>
<path d="M454.72 531.09 L456.26 532.28 L457.80 533.47 L459.35 534.65 L460.91 535.83 L462.48 537.01 L464.05 538.18 L465.63 539.34 L467.22 540.50 L468.82 541.65 L470.42 542.79 L472.03 543.93 L473.65 545.05 L475.28 546.17 L476.91 547.28 L478.55 548.38 L480.20 549.46 L481.86 550.54 L483.53 551.60 L485.20 552.65 L486.88 553.69 L488.57 554.72 L490.27 555.73 L491.97 556.73 L493.69 557.71 L495.41 558.68 L497.14 559.63 L498.87 560.57 L500.62 561.49 L502.38 562.39 L504.14 563.27 L505.91 564.14 L507.69 564.98 L509.48 565.81 L511.27 566.61 L513.08 567.40 L514.89 568.16 L516.72 568.91 L518.55 569.63 L520.39 570.32 L522.24 571.00 L524.09 571.65 L525.96 572.27 L527.83 572.87 L529.72 573.45 L531.61 574.00 L533.51 574.52 L535.42 575.02 L537.34 575.49 L539.27 575.93 L541.20 576.34 L541.60 574.46 L539.69 574.04 L537.79 573.60 L535.90 573.12 L534.02 572.62 L532.15 572.10 L530.29 571.54 L528.44 570.96 L526.59 570.36 L524.76 569.73 L522.93 569.08 L521.11 568.40 L519.30 567.70 L517.49 566.98 L515.70 566.24 L513.91 565.47 L512.13 564.68 L510.36 563.88 L508.60 563.05 L506.85 562.20 L505.10 561.34 L503.36 560.45 L501.63 559.55 L499.91 558.63 L498.20 557.70 L496.49 556.74 L494.79 555.78 L493.10 554.79 L491.42 553.79 L489.74 552.78 L488.08 551.75 L486.42 550.71 L484.76 549.66 L483.12 548.60 L481.48 547.52 L479.85 546.43 L478.23 545.33 L476.62 544.22 L475.01 543.10 L473.41 541.97 L471.81 540.84 L470.23 539.69 L468.65 538.54 L467.08 537.38 L465.51 536.21 L463.96 535.04 L462.41 533.86 L460.86 532.68 L459.33 531.49 L457.80 530.30 L456.28 529.11 Z" fill="#17a9df"/>
<circle cx="455.5" cy="530.1" r="1.20" fill="#17a9df"/>
<path d="M542.34 574.39 L526.69 560.77 L525.71 561.83 L540.46 576.41 Z" fill="#17a9df"/>
<path d="M541.59 574.03 L522.40 571.99 L522.20 573.41 L541.21 576.77 Z" fill="#17a9df"/>
<circle cx="541.4" cy="575.4" r="1.32" fill="#17a9df"/>
<!-- QKBT ellipse -->
<ellipse cx="182" cy="534.4" rx="91" ry="40" fill="#5b9bd5" stroke="#2f4a6a" stroke-width="1"/>

<!-- Fulfill leaves -->
<path d="M1117.4 654.6 C1125 645 1136 639.5 1145 639.8 C1150 640 1154 641.5 1156.9 643.3 C1150 650 1140 658 1130 659.6 C1124 660 1120 657 1117.4 654.6 Z" fill="#50bdd6"/>
<path d="M1130.3 669.8 C1145 658 1160 645 1176 644.1 C1186 644 1194 647 1199.1 650.7 C1190 664 1172 677 1153 677.7 C1143 678 1135 674 1130.3 669.8 Z" fill="#106cb8"/>

<text id="t_title1" transform="translate(97.08,124.3) scale(0.9325,1)" x="0" y="0" font-family="&#x27;Liberation Sans&#x27;" font-weight="400" font-style="normal" font-size="44" fill="#1c7cc3" stroke="#fdfdfd" stroke-width="0.9">Sinh</text>
<text id="t_title2" transform="translate(191.30,124.3) scale(0.9716,1)" x="0" y="0" font-family="&#x27;Liberation Sans&#x27;" font-weight="400" font-style="normal" font-size="44" fill="#1c7cc3" stroke="#fdfdfd" stroke-width="0.9">lý</text>
<text id="t_title3" transform="translate(234.84,124.3) scale(0.9828,1)" x="0" y="0" font-family="&#x27;Liberation Sans&#x27;" font-weight="400" font-style="normal" font-size="44" fill="#1c7cc3" stroke="#fdfdfd" stroke-width="0.9">bệnh</text>
<text id="t_tang" transform="translate(498.89,418.8) scale(0.9951,1)" x="0" y="0" font-family="&#x27;Liberation Serif&#x27;" font-weight="bold" font-style="normal" font-size="24" fill="#18499d" stroke="#18499d" stroke-width="0.45">Tăng tính thấm thành mạch</text>
<text id="t_giam" transform="translate(327.00,516.3) scale(0.9887,1)" x="0" y="0" font-family="&#x27;Liberation Serif&#x27;" font-weight="bold" font-style="normal" font-size="24" fill="#18499d" stroke="#18499d" stroke-width="0.45">Giảm thể tích nội mạch</text>
<text id="t_tran" transform="translate(787.00,516.8) scale(0.9767,1)" x="0" y="0" font-family="&#x27;Liberation Serif&#x27;" font-weight="bold" font-style="normal" font-size="24" fill="#18499d" stroke="#18499d" stroke-width="0.45">Tràn dịch đa màng</text>
<text id="t_gtm" transform="translate(250.50,600.6) scale(0.9644,1)" x="0" y="0" font-family="&#x27;Liberation Serif&#x27;" font-weight="bold" font-style="normal" font-size="24" fill="#18499d" stroke="#18499d" stroke-width="0.45">Giảm tưới máu</text>
<text id="t_sdcq" transform="translate(248.99,630.5) scale(0.9758,1)" x="0" y="0" font-family="&#x27;Liberation Serif&#x27;" font-weight="bold" font-style="normal" font-size="24" fill="#18499d" stroke="#18499d" stroke-width="0.45">Suy đa cơ quan</text>
<text id="t_cdm" transform="translate(544.42,604.8) scale(0.9632,1)" x="0" y="0" font-family="&#x27;Liberation Serif&#x27;" font-weight="bold" font-style="normal" font-size="24" fill="#18499d" stroke="#18499d" stroke-width="0.45">Cô đặc máu</text>
<text id="t_ttm" transform="translate(515.17,635) scale(0.9959,1)" x="0" y="0" font-family="&#x27;Liberation Serif&#x27;" font-weight="bold" font-style="normal" font-size="24" fill="#18499d" stroke="#18499d" stroke-width="0.45">Thuyên tắc mạch</text>
<text id="t_qkbt" transform="translate(120.72,541.9) scale(0.9534,1)" x="0" y="0" font-family="&#x27;Liberation Sans&#x27;" font-weight="bold" font-style="normal" font-size="23" fill="#f2f21a" >QKBT nặng</text>
<text id="t_ctc" transform="translate(907.29,560) scale(0.9880,1)" x="0" y="0" font-family="&#x27;Liberation Sans&#x27;" font-weight="bold" font-style="italic" font-size="21" fill="#c55a11" >các triệu chứng thường gặp</text>
<text id="t_fyh" transform="translate(959.30,675.8) scale(0.9832,1)" x="0" y="0" font-family="&#x27;Liberation Sans&#x27;" font-weight="400" font-style="italic" font-size="20" fill="#2270b8" stroke="#ffffff" stroke-width="0.2">Fulfill your hope</text>
<text id="t_truong" transform="translate(559.71,297.7) scale(1.0376,1)" x="0" y="0" font-family="&#x27;Liberation Serif&#x27;" font-weight="bold" font-style="normal" font-size="12" fill="#1c4a9a" letter-spacing="1.2">trưởng thành noãn</text>
<text id="t_il6" transform="translate(443.00,244) scale(1.0552,1)" x="0" y="0" font-family="&#x27;Liberation Serif&#x27;" font-weight="bold" font-style="normal" font-size="15.5" fill="#1c3f94" stroke="#1c3f94" stroke-width="0.4">IL-6</text>
<text id="t_ilgf" transform="translate(338.06,301.7) scale(0.9389,1)" x="0" y="0" font-family="&#x27;Liberation Sans&#x27;" font-weight="400" font-style="normal" font-size="16.5" fill="#2a9fc0" >ILGF-1</text>
<text id="t_ang" transform="translate(392.22,317.3) scale(0.9448,1)" x="0" y="0" font-family="&#x27;Liberation Sans&#x27;" font-weight="bold" font-style="normal" font-size="17" fill="#6a8ae8" stroke="#6a8ae8" stroke-width="0.6">angiotensin II</text>
<!-- box texts -->
<g transform="translate(284,186.5) rotate(-6.6)">
  <text x="-55" y="8" font-size="21.5" font-weight="bold" fill="#111" font-family="Liberation Sans" textLength="110" lengthAdjust="spacing">Kích thích</text>
</g>
<g transform="translate(300.7,225) rotate(2.5)">
  <text x="-50" y="4.5" font-size="17" font-weight="bold" fill="#111" font-family="Liberation Serif" textLength="102" lengthAdjust="spacingAndGlyphs">buồng trứng</text>
</g>
<g transform="translate(284.5,256.5) rotate(-2.5)">
  <text x="-37" y="3" font-size="8" fill="#141a3a" font-family="Liberation Sans" textLength="74" lengthAdjust="spacingAndGlyphs">FSH, HMG, CC, AI</text>
</g>
<!-- orange VEGF -->
<g font-size="20.5" letter-spacing="-3.7" font-family="Liberation Sans">
<text x="444.2" y="273.2" fill="#2a1a08">VEGF</text>
<text x="443.3" y="272.3" fill="#f28c1e">VEGF</text>
</g>
<!-- VEGF on cloud -->
<g font-size="18.5" letter-spacing="-2.3" font-family="Liberation Sans">
<g fill="#5a1414"><text x="793.4" y="246.5">VEGF</text><text x="873.9" y="245.20000000000002">VEGF</text><text x="800.9" y="277.09999999999997">VEGF</text><text x="861.1999999999999" y="281.09999999999997">VEGF</text><text x="819.9" y="302.65">VEGF</text></g>
<g fill="#e63a3a"><text x="792.5" y="245.6">VEGF</text><text x="873" y="244.3">VEGF</text><text x="800" y="276.2">VEGF</text><text x="860.3" y="280.2">VEGF</text><text x="819" y="301.75">VEGF</text></g>
</g>

</svg>
</body></html>
